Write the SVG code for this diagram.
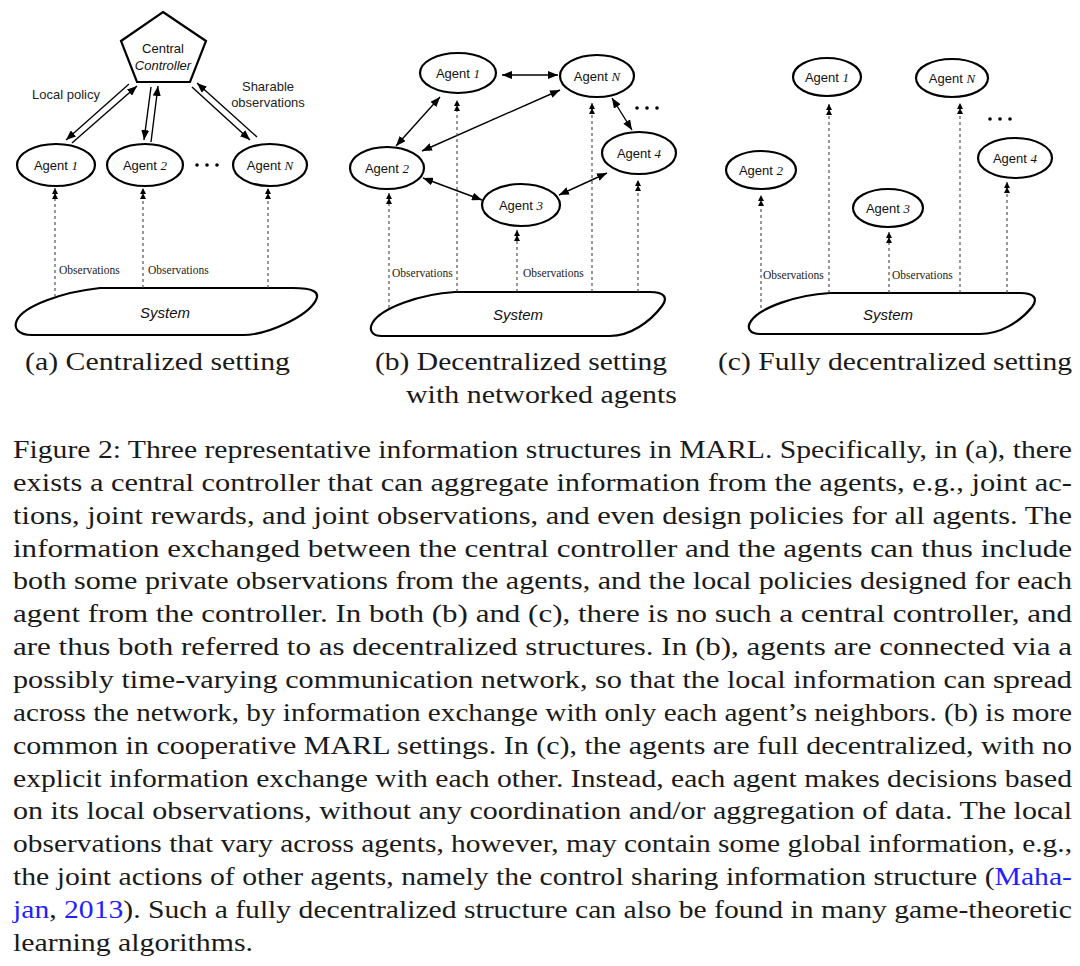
<svg xmlns="http://www.w3.org/2000/svg" width="1080" height="966" viewBox="0 0 1080 966">
<style>
.shape{fill:#fff;stroke:#000;stroke-width:2.2}
.agent{font-family:"Liberation Sans",Arial,sans-serif;font-size:13px;text-anchor:middle;fill:#111}
.idx{font-family:"Liberation Serif","Times New Roman",serif;font-style:italic}
.lbl{font-family:"Liberation Sans",Arial,sans-serif;font-size:13px;fill:#222;text-anchor:middle}
.sys{font-family:"Liberation Sans",Arial,sans-serif;font-size:15px;font-style:italic;text-anchor:middle;fill:#111}
.obs{font-family:"Liberation Serif","Times New Roman",serif;font-size:11.5px;fill:#222}
.arr{stroke:#000;stroke-width:1.4;fill:none}
.one{marker-end:url(#ah)}
.two{marker-start:url(#ah);marker-end:url(#ah)}
.dash{stroke:#444;stroke-width:1.1;stroke-dasharray:3 3;fill:none;marker-end:url(#dah)}
.txt{font-family:"Liberation Serif","Times New Roman",serif;font-size:26px;fill:#1a1a1a}
.blue{fill:#1f1fff}
</style>
<defs>
<marker id="ah" viewBox="0 0 10 8" refX="10" refY="4" markerWidth="10" markerHeight="8" markerUnits="userSpaceOnUse" orient="auto-start-reverse"><path d="M0,0 L10,4 L0,8 z" fill="#000"/></marker>
<marker id="dah" viewBox="0 0 11 6" refX="11" refY="3" markerWidth="11" markerHeight="6" markerUnits="userSpaceOnUse" orient="auto"><path d="M0,0 L6,3 L0,6 z M5,0 L11,3 L5,6 z" fill="#000"/></marker>
</defs>
<rect width="1080" height="966" fill="#fff"/>

<!-- Panel (a) -->
<g id="a-controller">
<polygon class="shape" points="163,12 206,41 190,82 137,82 121,41"/>
<text class="agent" x="163" y="53" font-size="12">Central</text>
<text class="agent" x="163" y="70" font-size="12" font-style="italic">Controller</text>
</g>
<g id="a-agent1"><ellipse class="shape" cx="56" cy="165" rx="39" ry="21"/><text class="agent" x="56" y="170">Agent <tspan class="idx">1</tspan></text></g>
<g id="a-agent2"><ellipse class="shape" cx="145" cy="165" rx="38" ry="21"/><text class="agent" x="145" y="170">Agent <tspan class="idx">2</tspan></text></g>
<g id="a-agentN"><ellipse class="shape" cx="270" cy="165" rx="37" ry="21"/><text class="agent" x="270" y="170">Agent <tspan class="idx">N</tspan></text></g>
<g id="a-dots"><circle cx="197" cy="165" r="1.8"/><circle cx="207" cy="165" r="1.8"/><circle cx="217" cy="165" r="1.8"/></g>
<g id="a-system">
<path class="shape" d="M100,288 L293,288 C313,288 320,292 316,300 C308,316 268,335 243,335 L32,335 C18,335 13,328 17,320 C24,306 62,292 100,288 Z"/>
<text class="sys" x="165" y="318">System</text>
</g>
<g id="a-labels">
<text class="lbl" x="66" y="99">Local policy</text>
<text class="lbl" x="268" y="91">Sharable</text>
<text class="lbl" x="268" y="107">observations</text>
<text class="obs" x="59" y="274">Observations</text>
<text class="obs" x="148" y="274">Observations</text>
</g>

<!-- Panel (b) -->
<g id="b-agent1"><ellipse class="shape" cx="458" cy="73" rx="38" ry="20"/><text class="agent" x="458" y="78">Agent <tspan class="idx">1</tspan></text></g>
<g id="b-agentN"><ellipse class="shape" cx="597" cy="76" rx="37" ry="21"/><text class="agent" x="597" y="81">Agent <tspan class="idx">N</tspan></text></g>
<g id="b-agent2"><ellipse class="shape" cx="387" cy="168" rx="37" ry="21"/><text class="agent" x="387" y="173">Agent <tspan class="idx">2</tspan></text></g>
<g id="b-agent3"><ellipse class="shape" cx="521" cy="205" rx="39" ry="21"/><text class="agent" x="521" y="210">Agent <tspan class="idx">3</tspan></text></g>
<g id="b-agent4"><ellipse class="shape" cx="639" cy="153" rx="37" ry="21"/><text class="agent" x="639" y="158">Agent <tspan class="idx">4</tspan></text></g>
<g id="b-dots"><circle cx="637" cy="108" r="1.8"/><circle cx="647" cy="108" r="1.8"/><circle cx="657" cy="108" r="1.8"/></g>
<g id="b-system">
<path class="shape" d="M455,292 L650,292 C665,292 668,298 662,306 C650,322 630,336 610,336 L382,336 C372,336 368,330 373,322 C382,308 420,294 455,292 Z"/>
<text class="sys" x="518" y="320">System</text>
</g>
<g id="b-labels">
<text class="obs" x="392" y="277">Observations</text>
<text class="obs" x="523" y="277">Observations</text>
</g>

<!-- Panel (c) -->
<g id="c-agent1"><ellipse class="shape" cx="827" cy="77" rx="34" ry="19"/><text class="agent" x="827" y="82">Agent <tspan class="idx">1</tspan></text></g>
<g id="c-agentN"><ellipse class="shape" cx="952" cy="78" rx="36" ry="19"/><text class="agent" x="952" y="83">Agent <tspan class="idx">N</tspan></text></g>
<g id="c-agent2"><ellipse class="shape" cx="761" cy="170" rx="35" ry="19"/><text class="agent" x="761" y="175">Agent <tspan class="idx">2</tspan></text></g>
<g id="c-agent3"><ellipse class="shape" cx="888" cy="208" rx="35" ry="19"/><text class="agent" x="888" y="213">Agent <tspan class="idx">3</tspan></text></g>
<g id="c-agent4"><ellipse class="shape" cx="1015" cy="158" rx="37" ry="20"/><text class="agent" x="1015" y="163">Agent <tspan class="idx">4</tspan></text></g>
<g id="c-dots"><circle cx="990" cy="119" r="1.8"/><circle cx="1000" cy="119" r="1.8"/><circle cx="1010" cy="119" r="1.8"/></g>
<g id="c-system">
<path class="shape" d="M830,293 L1020,293 C1035,293 1038,299 1032,307 C1020,322 1000,334 980,334 L760,334 C750,334 746,328 751,321 C760,308 795,295 830,293 Z"/>
<text class="sys" x="888" y="320">System</text>
</g>
<g id="c-labels">
<text class="obs" x="763" y="279">Observations</text>
<text class="obs" x="892" y="279">Observations</text>
</g>

<!-- Connectors -->
<g id="connectors">
<line class="arr one" x1="129" y1="84" x2="66" y2="140"/>
<line class="arr one" x1="72" y1="143" x2="137" y2="86"/>
<line class="arr one" x1="151" y1="87" x2="144" y2="140"/>
<line class="arr one" x1="151" y1="142" x2="158" y2="86"/>
<line class="arr one" x1="192" y1="87" x2="250" y2="140"/>
<line class="arr one" x1="257" y1="137" x2="197" y2="83"/>
<line class="dash" x1="55" y1="297" x2="55" y2="188"/>
<line class="dash" x1="143" y1="288" x2="143" y2="188"/>
<line class="dash" x1="268" y1="288" x2="268" y2="188"/>

<line class="arr two" x1="440" y1="97" x2="396" y2="146"/>
<line class="arr two" x1="560" y1="90" x2="422" y2="151"/>
<line class="arr two" x1="502" y1="75" x2="558" y2="75"/>
<line class="arr two" x1="423" y1="178" x2="482" y2="200"/>
<line class="arr two" x1="612" y1="98" x2="632" y2="130"/>
<line class="arr two" x1="607" y1="173" x2="559" y2="195"/>
<line class="dash" x1="389" y1="308" x2="389" y2="193"/>
<line class="dash" x1="457" y1="292" x2="457" y2="100"/>
<line class="dash" x1="517" y1="292" x2="517" y2="230"/>
<line class="dash" x1="592" y1="292" x2="592" y2="103"/>
<line class="dash" x1="638" y1="292" x2="638" y2="180"/>

<line class="dash" x1="761" y1="308" x2="761" y2="195"/>
<line class="dash" x1="829" y1="293" x2="829" y2="104"/>
<line class="dash" x1="889" y1="293" x2="889" y2="232"/>
<line class="dash" x1="960" y1="293" x2="960" y2="103"/>
<line class="dash" x1="1007" y1="293" x2="1007" y2="182"/>
</g>

<!-- Sub-captions -->
<g id="subcaptions">
<text class="txt" x="25" y="370" textLength="265" lengthAdjust="spacingAndGlyphs">(a) Centralized setting</text>
<text class="txt" x="375" y="370" textLength="292" lengthAdjust="spacingAndGlyphs">(b) Decentralized setting</text>
<text class="txt" x="406" y="403" textLength="271" lengthAdjust="spacingAndGlyphs">with networked agents</text>
<text class="txt" x="718" y="370" textLength="354" lengthAdjust="spacingAndGlyphs">(c) Fully decentralized setting</text>
</g>

<!-- Caption paragraph -->
<g id="caption">
<text class="txt" x="13" y="458" textLength="1059" lengthAdjust="spacingAndGlyphs">Figure 2: Three representative information structures in MARL. Specifically, in (a), there</text>
<text class="txt" x="13" y="491" textLength="1059" lengthAdjust="spacingAndGlyphs">exists a central controller that can aggregate information from the agents, e.g., joint ac-</text>
<text class="txt" x="13" y="524" textLength="1059" lengthAdjust="spacingAndGlyphs">tions, joint rewards, and joint observations, and even design policies for all agents.  The</text>
<text class="txt" x="13" y="557" textLength="1059" lengthAdjust="spacingAndGlyphs">information exchanged between the central controller and the agents can thus include</text>
<text class="txt" x="13" y="589" textLength="1059" lengthAdjust="spacingAndGlyphs">both some private observations from the agents, and the local policies designed for each</text>
<text class="txt" x="13" y="622" textLength="1059" lengthAdjust="spacingAndGlyphs">agent from the controller.  In both (b) and (c), there is no such a central controller, and</text>
<text class="txt" x="13" y="655" textLength="1059" lengthAdjust="spacingAndGlyphs">are thus both referred to as decentralized structures.  In (b), agents are connected via a</text>
<text class="txt" x="13" y="688" textLength="1059" lengthAdjust="spacingAndGlyphs">possibly time-varying communication network, so that the local information can spread</text>
<text class="txt" x="13" y="721" textLength="1059" lengthAdjust="spacingAndGlyphs">across the network, by information exchange with only each agent’s neighbors. (b) is more</text>
<text class="txt" x="13" y="754" textLength="1059" lengthAdjust="spacingAndGlyphs">common in cooperative MARL settings.  In (c), the agents are full decentralized, with no</text>
<text class="txt" x="13" y="787" textLength="1059" lengthAdjust="spacingAndGlyphs">explicit information exchange with each other. Instead, each agent makes decisions based</text>
<text class="txt" x="13" y="819" textLength="1059" lengthAdjust="spacingAndGlyphs">on its local observations, without any coordination and/or aggregation of data.  The local</text>
<text class="txt" x="13" y="852" textLength="1059" lengthAdjust="spacingAndGlyphs">observations that vary across agents, however, may contain some global information, e.g.,</text>
<text class="txt" x="13" y="885" textLength="1059" lengthAdjust="spacingAndGlyphs">the joint actions of other agents, namely the control sharing information structure (<tspan class="blue">Maha-</tspan></text>
<text class="txt" x="13" y="918" textLength="1059" lengthAdjust="spacingAndGlyphs"><tspan class="blue">jan</tspan>, <tspan class="blue">2013</tspan>). Such a fully decentralized structure can also be found in many game-theoretic</text>
<text class="txt" x="13" y="951" textLength="240" lengthAdjust="spacingAndGlyphs">learning algorithms.</text>
</g>
</svg>
